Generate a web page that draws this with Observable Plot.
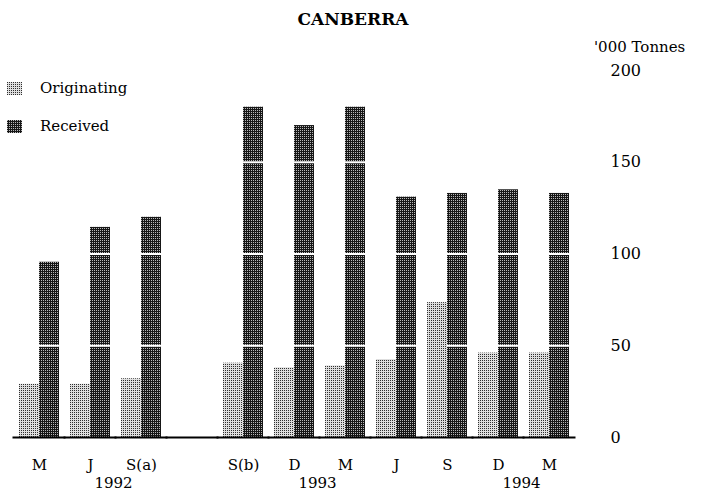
<!DOCTYPE html>
<html>
<head>
<meta charset="utf-8">
<script src="https://cdn.jsdelivr.net/npm/d3@7"></script>
<script src="https://cdn.jsdelivr.net/npm/@observablehq/plot@0.6"></script>
<style>
  html, body { margin: 0; padding: 0; background: white; }
  #wrap { position: relative; width: 701px; height: 495px; font-family: "DejaVu Serif", serif; color: black; }
  #chart { position: absolute; left: 0; top: 0; }
  .abs { position: absolute; white-space: nowrap; line-height: 1; }
  #title { left: 0; width: 706px; text-align: center; top: 10.5px; font-size: 17px; font-weight: bold; }
  #unit { left: 594px; top: 40px; font-size: 15px; }
  .lg { left: 40px; font-size: 15px; }
  .sw { position: absolute; left: 7px; width: 15px; height: 13px; }
</style>
</head>
<body>
<svg width="0" height="0" style="position:absolute">
  <defs>
    <pattern id="pRec" width="2" height="2" patternUnits="userSpaceOnUse">
      <rect width="2" height="2" fill="#161616"></rect>
      <rect x="0" y="0" width="1" height="1" fill="#b8b8b8"></rect>
    </pattern>
    <pattern id="pOrig" width="2" height="2" patternUnits="userSpaceOnUse">
      <rect width="2" height="2" fill="#dedede"></rect>
      <rect x="0" y="0" width="1" height="1" fill="#2e2e2e"></rect>
    </pattern>
  </defs>
</svg>
<div id="wrap">
  <div id="chart"></div>
  <div class="abs" id="title">CANBERRA</div>
  <div class="abs" id="unit">'000 Tonnes</div>
  <svg class="sw" style="top:82px"><rect width="15" height="13" fill="url(#pOrig)"></rect></svg>
  <div class="abs lg" style="top:81px">Originating</div>
  <svg class="sw" style="top:120px"><rect width="15" height="13" fill="url(#pRec)"></rect></svg>
  <div class="abs lg" style="top:119px">Received</div>
</div>
<script>
// Slots on the category axis ("gap" is the empty break between S(a) and S(b))
const categories = ["1992-M", "1992-J", "1992-Sa", "gap", "1992-Sb", "1992-D", "1993-M", "1993-J", "1993-S", "1993-D", "1994-M"];
const tickLabels = ["M", "J", "S(a)", "", "S(b)", "D", "M", "J", "S", "D", "M"];
const periods = ["1992-M", "1992-J", "1992-Sa", "1992-Sb", "1992-D", "1993-M", "1993-J", "1993-S", "1993-D", "1994-M"];
const originating = [29, 29, 32, 40.5, 38, 39, 42.5, 73.5, 46, 46];
const received = [95.5, 114.5, 120, 180, 170, 180, 131, 133, 135, 133];
const seriesNames = ["Originating", "Received"];
const yTicks = [0, 50, 100, 150, 200];
const gridValues = [50, 100, 150];
const yearLabels = ["1992", "1993", "1994"];
const yearAnchors = ["1992-J", "1992-D", "1993-D"];

const origData = periods.map((p, i) => ({period: p, series: seriesNames[0], value: originating[i]}));
const recData = periods.map((p, i) => ({period: p, series: seriesNames[1], value: received[i]}));
const years = yearLabels.map((t, i) => ({period: yearAnchors[i], text: t}));
const slots = categories.map(c => ({period: c, base: 0}));
const labelOf = new Map(categories.map((c, i) => [c, tickLabels[i]]));

const chart = Plot.plot({
  width: 701,
  height: 495,
  marginLeft: 10,
  marginRight: 123,
  marginTop: 70,
  marginBottom: 58,
  style: {fontFamily: "DejaVu Serif", fontSize: "16px", background: "transparent", color: "black"},
  fx: {domain: categories, paddingInner: 0.225, paddingOuter: 0.116, axis: null, label: null},
  x: {domain: seriesNames, padding: 0, axis: null},
  y: {domain: [0, 200], axis: null},
  marks: [
    Plot.barY(recData, {fx: "period", x: "series", y: "value", fill: "url(#pRec)"}),
    Plot.ruleY(gridValues, {stroke: "white", strokeWidth: 2}),
    Plot.barY(origData, {fx: "period", x: "series", y: "value", fill: "url(#pOrig)"}),
    // baseline: one segment per slot (incl. the empty gap), widened to join up
    Plot.ruleY(slots, {fx: "period", y: "base", stroke: "black", strokeWidth: 2, insetLeft: -6.5, insetRight: -6.5}),
    Plot.axisFx({anchor: "bottom", tickSize: 0, tickPadding: 22, fontSize: 15, tickFormat: d => labelOf.get(d), label: null}),
    Plot.axisY({anchor: "right", facetAnchor: "right", ticks: yTicks, tickSize: 0, tickPadding: 41, fontSize: 16, label: null, textAnchor: "start"}),
    Plot.text(years, {fx: "period", text: "text", frameAnchor: "bottom", dy: 50, dx: 23, fontSize: 15})
  ]
});
document.getElementById("chart").appendChild(chart);
</script>
</body>
</html>
